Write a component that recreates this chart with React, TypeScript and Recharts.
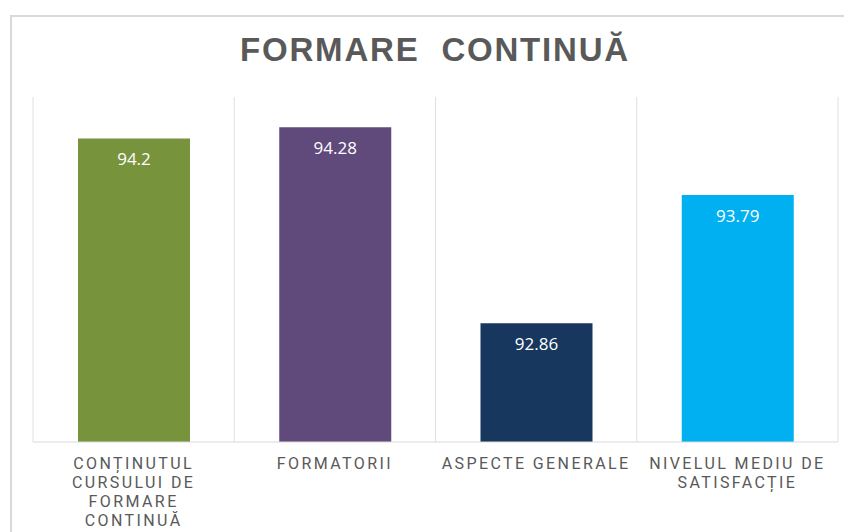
import React from "react";
import { BarChart, Bar, XAxis, YAxis, CartesianGrid, LabelList, Cell } from "recharts";

const categories = [
  "CONȚINUTUL\nCURSULUI DE\nFORMARE\nCONTINUĂ",
  "FORMATORII",
  "ASPECTE GENERALE",
  "NIVELUL MEDIU DE\nSATISFACȚIE",
];
const values = [94.2, 94.28, 92.86, 93.79];
const barColors = ["#77933C", "#604A7B", "#17375E", "#00B0F0"];

const data = categories.map((name, i) => ({ name, value: values[i] }));

const WrappedTick = (props: any) => {
  const { x, y, payload } = props;
  const lines = String(payload.value).split("\n");
  return (
    <text x={x} y={y} textAnchor="middle" fill="#595959" fontSize={16} letterSpacing={2.4} fontFamily="Roboto, sans-serif">
      {lines.map((l, i) => (
        <tspan key={i} x={x} dy={19}>
          {l}
        </tspan>
      ))}
    </text>
  );
};

export default function App() {
  return (
    <div style={{ position: "absolute", left: 0, top: 0, width: 844, height: 532, overflow: "hidden", background: "#fff" }}>
      <div style={{ position: "absolute", left: 10, top: 15, width: 900, height: 600, border: "2px solid #d9d9d9", boxSizing: "border-box" }} />
      <div
        style={{
          position: "absolute",
          left: 0,
          top: 30,
          width: 870,
          textAlign: "center",
          fontFamily: "'Liberation Sans', Arial, sans-serif",
          fontWeight: "bold",
          fontSize: 33,
          letterSpacing: 1.8,
          color: "#595959",
          whiteSpace: "pre",
          lineHeight: "40px",
        }}
      >
        FORMARE  CONTINUĂ
      </div>
      <div style={{ position: "absolute", left: 0, top: 0 }}>
        <BarChart width={844} height={532} data={data} margin={{ top: 97, right: 6, left: 33, bottom: 10 }} barSize={112}>
          <CartesianGrid
            vertical={true}
            horizontal={false}
            stroke="#e0e0e0"
            verticalCoordinatesGenerator={({ offset }: any) =>
              [0, 1, 2, 3, 4].map((i) => offset.left + (i * offset.width) / 4)
            }
          />
          <XAxis dataKey="name" interval={0} height={80} tickLine={false} axisLine={{ stroke: "#d9d9d9" }} tick={<WrappedTick />} />
          <YAxis hide domain={[92, 94.5]} allowDataOverflow />
          <Bar dataKey="value" isAnimationActive={false}>
            {data.map((d, i) => (
              <Cell key={d.name} fill={barColors[i]} />
            ))}
            <LabelList dataKey="value" position="insideTop" offset={15} fill="#ffffff" fontSize={17} fontFamily="'Open Sans', sans-serif" />
          </Bar>
        </BarChart>
      </div>
    </div>
  );
}
